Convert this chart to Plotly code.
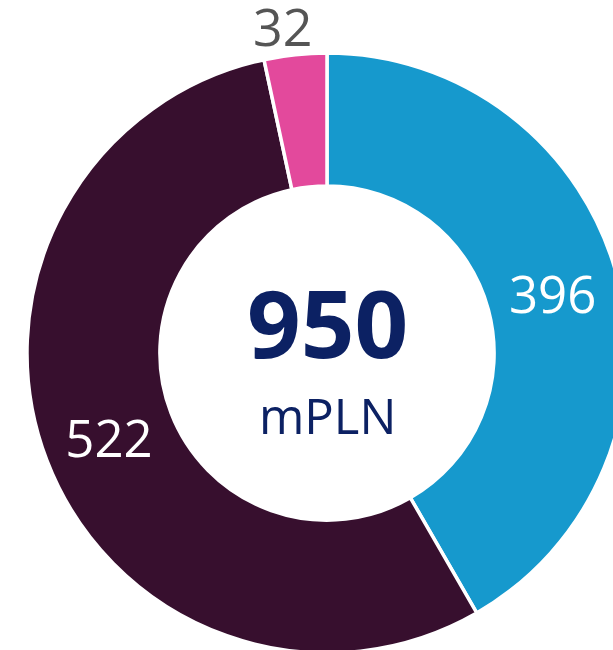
import math
import plotly.graph_objects as go

# Revenue split (mPLN)
segments = ["A", "B", "C"]
values = [396, 522, 32]
colors = ["#1699cd", "#370f2e", "#e3499c"]
total_label = "950"
unit_label = "mPLN"

fig = go.Figure(
    go.Pie(
        labels=segments,
        values=values,
        sort=False,
        direction="clockwise",
        rotation=0,
        hole=0.557,
        marker=dict(colors=colors, line=dict(color="white", width=3.5)),
        texttemplate="%{value}",
        textposition=["inside", "inside", "none"],
        insidetextorientation="horizontal",
        insidetextfont=dict(family="Open Sans", size=51, color="white"),
        automargin=False,
        hoverinfo="skip",
        showlegend=False,
    )
)

# The thin last slice gets its value just outside the ring, at its mid-angle
total = sum(values)
mid = (sum(values[:-1]) + values[-1] / 2) / total * 2 * math.pi
fig.add_annotation(
    x=0.5 + 0.5 * math.sin(mid), y=0.5 + 0.5 * math.cos(mid),
    xref="paper", yref="paper",
    text=str(values[-1]), showarrow=False,
    xanchor="center", yanchor="bottom", xshift=-13, yshift=-8,
    font=dict(family="Open Sans", size=52, color="#555555"),
)

fig.add_annotation(
    x=0.5, y=0.552, xref="paper", yref="paper",
    text="<b>" + total_label + "</b>", showarrow=False,
    font=dict(family="Open Sans", size=94, color="#0c2163"),
)
fig.add_annotation(
    x=0.5, y=0.397, xref="paper", yref="paper",
    text=unit_label, showarrow=False,
    font=dict(family="Open Sans", size=49, color="#0c2163"),
)

fig.update_layout(
    width=627,
    height=653,
    margin=dict(l=27, r=0, t=53, b=0, autoexpand=False),
    paper_bgcolor="white",
    plot_bgcolor="white",
)

fig.write_html(
    "out.html",
    post_script="document.documentElement.style.overflow='hidden';document.body.style.overflow='hidden';",
)
